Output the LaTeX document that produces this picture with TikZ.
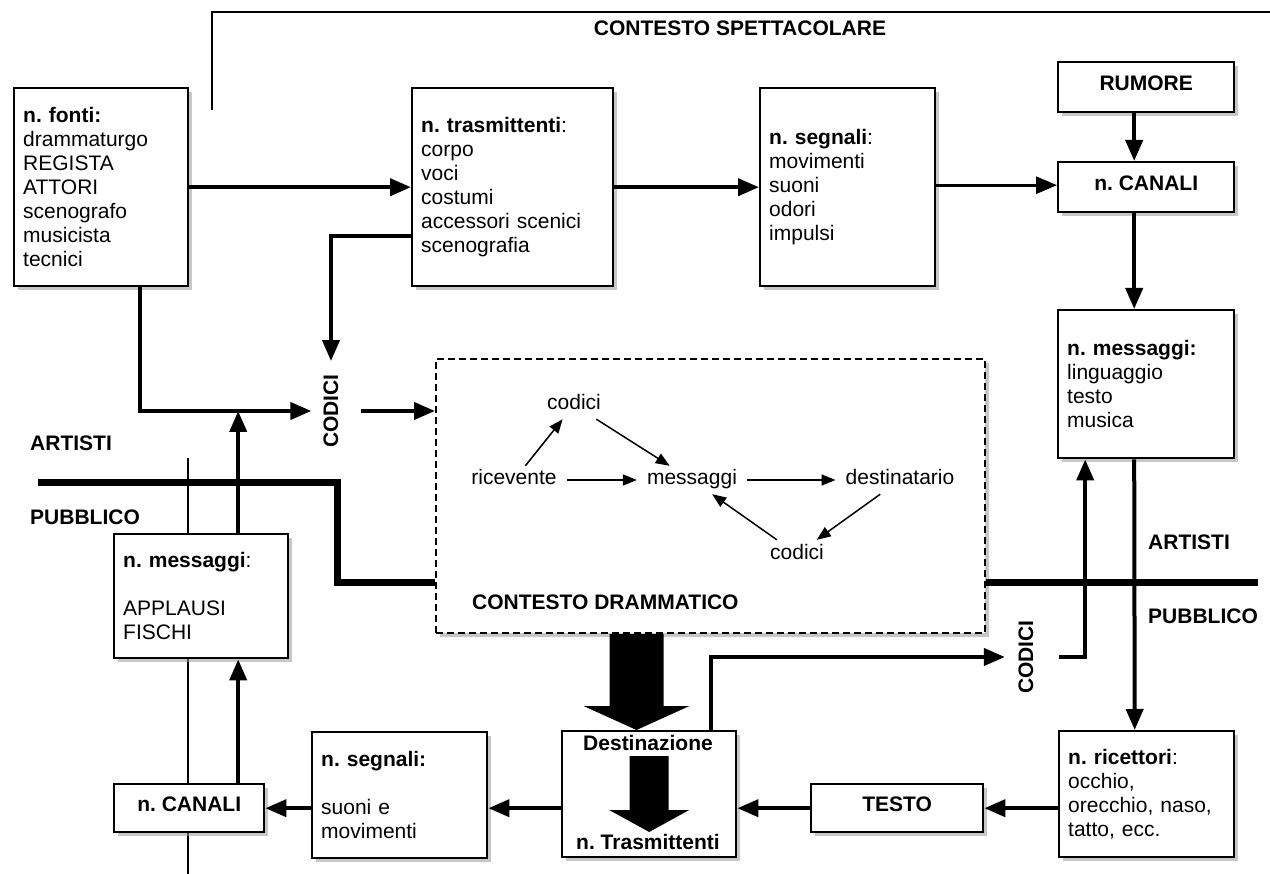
\documentclass[tikz,border=0pt]{standalone}
\usepackage{fontspec}
\setmainfont{Liberation Sans}
\usetikzlibrary{arrows.meta,shadows,calc}
\pgfdeclarelayer{bg}
\pgfsetlayers{bg,main}
\frenchspacing
\begin{document}
\frenchspacing
\begin{tikzpicture}[x=1pt,y=-1pt,
  every node/.style={font=\fontsize{21}{24}\selectfont},
  shadowed/.style={drop shadow={shadow xshift=4pt,shadow yshift=-4pt,fill=black!40,opacity=0.55}},
  box/.style={draw,line width=2.4pt,fill=white,anchor=north west,inner sep=0pt,shadowed},
  tbox/.style n args={3}{box,minimum width=#1,minimum height=#2,text width=#3,align=left,inner xsep=9pt},
  sbox/.style 2 args={box,minimum width=#1,minimum height=#2,text height=15pt,text depth=8pt,align=center,font=\fontsize{21}{24}\selectfont\bfseries},
  lab/.style={font=\fontsize{21}{24}\selectfont\bfseries,inner sep=0pt},
  vlab/.style={lab,rotate=90,inner xsep=13pt,inner ysep=12pt},
  conn/.style={line width=4pt,-{Triangle[length=21pt,width=17pt]}},
  iarr/.style={line width=1.5pt,-{Triangle[length=14pt,width=11pt]}},
  inner/.style={inner xsep=10pt,inner ysep=4pt,text height=15pt,text depth=5pt},
  stage/.style={line width=7pt},
  thinl/.style={line width=2pt},
  blk/.style={fill=black}
]
\useasboundingbox (0,0) rectangle (1270,874);

% ---------- boxes ----------
\node[tbox={174pt}{198pt}{156pt}] (fonti) at (13,87)
  {\textbf{n. fonti:}\\drammaturgo\\REGISTA\\ATTORI\\scenografo\\musicista\\tecnici};
\node[tbox={201pt}{198pt}{183pt}] (trasm) at (411,87)
  {\textbf{n. trasmittenti}:\\corpo\\voci\\costumi\\accessori scenici\\scenografia};
\node[tbox={175pt}{198pt}{157pt}] (segn) at (759,87)
  {\textbf{n. segnali}:\\movimenti\\suoni\\odori\\impulsi};
\node[sbox={176pt}{50pt}] (rumore) at (1057,61) {RUMORE};
\node[sbox={176pt}{50pt}] (canaliR) at (1057,161) {n. CANALI};
\node[tbox={176pt}{148pt}{158pt}] (msgR) at (1057,309)
  {\textbf{n. messaggi:}\\linguaggio\\testo\\musica};
\node[tbox={174pt}{124pt}{156pt}] (msgL) at (113,533)
  {\textbf{n. messaggi}:\\[24pt]APPLAUSI\\FISCHI};
\node[sbox={150pt}{48pt}] (canaliL) at (113,783) {n. CANALI};
\node[tbox={175pt}{126pt}{157pt}] (segnL) at (311,731)
  {\textbf{n. segnali:}\\[24pt]suoni e\\movimenti};
\node[box,minimum width=174pt,minimum height=126pt] (dest) at (561,730) {};
\node[sbox={172pt}{48pt}] (testo) at (810,783) {TESTO};
\node[tbox={175pt}{126pt}{157pt}] (ricet) at (1058,730)
  {\textbf{n. ricettori}:\\occhio,\\orecchio, naso,\\tatto, ecc.};
\node[box,draw,line width=2pt,dash pattern=on 7pt off 4pt,minimum width=549pt,minimum height=274pt] (dram) at (435,358) {};

% ---------- labels ----------
\node[lab] (cs) at (740,28) {CONTESTO SPETTACOLARE};
\node[lab,anchor=west] (artL) at (30,443) {ARTISTI};
\node[lab,anchor=west] (pubL) at (30,517) {PUBBLICO};
\node[lab,anchor=west] (artR) at (1148,542) {ARTISTI};
\node[lab,anchor=west] (pubR) at (1148,616) {PUBBLICO};
\node[lab,anchor=west] (cd) at (472,602) {CONTESTO DRAMMATICO};
\node[vlab] (codiciL) at (331,411) {CODICI};
\node[vlab,inner ysep=13.5pt] (codiciR) at (1026,657) {CODICI};
\node[lab] (destT) at (648,743) {Destinazione};
\node[lab] (destB) at (648,842) {n. Trasmittenti};

% inner diagram
\node[inner] (codA) at (574,405) {codici};
\node[inner] (ric) at (514,480) {ricevente};
\node[inner] (msgI) at (692,480) {messaggi};
\node[inner] (destI) at (900,480) {destinatario};
\node[inner] (codB) at (797,554) {codici};
\draw[iarr] (ric) -- (codA);
\draw[iarr] (codA) -- (msgI);
\draw[iarr] (ric) -- (msgI);
\draw[iarr] (msgI) -- (destI);
\draw[iarr] (destI) -- (codB);
\draw[iarr] (codB) -- (msgI);

% ---------- background lines ----------
\coordinate (tTop) at (188,458);
\coordinate (tBot) at (188,874);
\coordinate (b1) at (212,110);
\coordinate (b2) at (1270,12);
\coordinate (aL) at (38,483);
\coordinate (aK) at (337,582);
\coordinate (aR) at (1258,582);
\begin{pgfonlayer}{bg}
\draw[thinl] (tTop) -- (tBot);
\end{pgfonlayer}
\draw[line width=2.5pt] (b1) |- (b2);
\draw[stage] (aL) -| (aK) -- (aK -| dram.west);
\draw[stage] (dram.east |- aR) -- (aR);

% ---------- connectors ----------
\draw[conn] (fonti.east) -- (trasm.west);
\draw[conn] (trasm.east) -- (segn.west);
\draw[conn,line width=3pt] ([yshift=2pt]segn.east) -- ([yshift=2pt]canaliR.west);
\draw[conn] ([xshift=-12pt]rumore.south) -- ([xshift=-12pt]canaliR.north);
\draw[conn] ([xshift=-12pt]canaliR.south) -- ([xshift=-12pt]msgR.north);
\draw[conn] ([yshift=-49pt]trasm.west) -| (codiciL.east);
\draw[conn] ([xshift=39pt]fonti.south) |- (codiciL.north);
\draw[conn] ([xshift=37pt]msgL.north) -- ([xshift=37pt]msgL.north |- codiciL.north);
\draw[conn] ([xshift=10.5pt]codiciL.south) -- (codiciL.south -| dram.west);
\draw[conn] ([xshift=-12pt]msgR.south) -- ([xshift=-12pt]ricet.north);
\draw[conn] ([xshift=62pt]dest.north) |- (codiciR.north);
\draw[conn] ([xshift=12pt]codiciR.south) -| ([xshift=-61pt]msgR.south);
\draw[conn] (ricet.west |- testo.east) -- (testo.east);
\draw[conn] (testo.west) -- (testo.west -| dest.east);
\draw[conn] (dest.west |- testo.west) -- (segnL.east |- testo.west);
\draw[conn] (segnL.west |- canaliL.east) -- (canaliL.east);
\draw[conn] ([xshift=49pt]canaliL.north) -- ([xshift=49pt]canaliL.north |- msgL.south);

% ---------- block arrows ----------
\coordinate (ba) at ($(dram.south)+(-74,0)$);
\fill[blk] ($(ba)+(-27,0)$) -- ($(ba)+(-27,72)$) -- ($(ba)+(-53,72)$) -- (ba |- dest.north)
  -- ($(ba)+(53,72)$) -- ($(ba)+(27,72)$) -- ($(ba)+(27,0)$) -- cycle;
\coordinate (bi) at ($(dest.north)+(0,26)$);
\fill[blk] ($(bi)+(-19.5,0)$) -- ($(bi)+(-19.5,54)$) -- ($(bi)+(-40,54)$) -- ($(bi)+(0,76)$)
  -- ($(bi)+(40,54)$) -- ($(bi)+(19.5,54)$) -- ($(bi)+(19.5,0)$) -- cycle;
\end{tikzpicture}
\end{document}
